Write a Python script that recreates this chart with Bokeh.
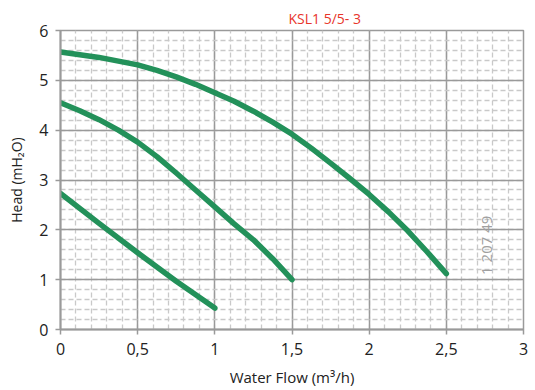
import numpy as np
from bokeh.plotting import figure
from bokeh.models import FixedTicker, Label, Range1d
from bokeh.embed import file_html
from bokeh.resources import INLINE

# Data
flow_high = [0, 0.25, 0.5, 0.625, 0.75, 0.875, 1.0, 1.125, 1.25, 1.375, 1.5,
             1.625, 1.75, 1.875, 2.0, 2.125, 2.25, 2.375, 2.5]
head_high = [5.57, 5.46, 5.31, 5.20, 5.07, 4.92, 4.75, 4.58, 4.38, 4.16, 3.92,
             3.64, 3.34, 3.03, 2.71, 2.36, 1.98, 1.56, 1.12]

flow_mid = [0, 0.125, 0.25, 0.375, 0.5, 0.625, 0.75, 0.875, 1.0, 1.125, 1.25, 1.375, 1.5]
head_mid = [4.55, 4.39, 4.21, 4.00, 3.76, 3.47, 3.14, 2.80, 2.46, 2.12, 1.80, 1.42, 1.0]

flow_low = [0, 0.25, 0.5, 0.75, 1.0]
head_low = [2.73, 2.13, 1.54, 0.97, 0.43]

x_ticks = [0, 0.5, 1, 1.5, 2, 2.5, 3]
x_tick_labels = ["0", "0,5", "1", "1,5", "2", "2,5", "3"]
y_ticks = [0, 1, 2, 3, 4, 5, 6]
x_minor = [round(i * 0.1, 2) for i in range(31)]
y_minor = [round(i * 0.2, 2) for i in range(31)]

title_text = "KSL1 5/5- 3"
code_text = "1 207 49"

FONT = "Open Sans"
GREEN = "#23915a"

p = figure(width=535, height=390, output_backend="svg", toolbar_location=None,
           x_range=Range1d(0, 3), y_range=Range1d(0, 6),
           min_border_left=60, min_border_top=30, min_border_right=12,
           min_border_bottom=61)

p.title.text = title_text
p.title.text_color = "#e8352b"
p.title.text_font = FONT
p.title.text_font_size = "14px"
p.title.text_font_style = "normal"
p.title.align = "left"
p.title.offset = 228
p.title.standoff = 6

p.xaxis.ticker = FixedTicker(ticks=x_ticks, minor_ticks=x_minor)
p.yaxis.ticker = FixedTicker(ticks=y_ticks, minor_ticks=y_minor)
p.xaxis.major_label_overrides = {t: l for t, l in zip(x_ticks, x_tick_labels)}

for ax in (p.xaxis, p.yaxis):
    ax.axis_line_color = "#9a9a9a"
    ax.axis_line_width = 2
    ax.major_tick_line_color = "#9a9a9a"
    ax.major_tick_line_width = 1.5
    ax.major_tick_out = 5
    ax.major_tick_in = 0
    ax.minor_tick_line_color = None
    ax.major_label_text_font = FONT
    ax.major_label_text_font_size = "16px"
    ax.major_label_text_color = "#222222"
    ax.axis_label_text_font = FONT
    ax.axis_label_text_font_style = "normal"
    ax.axis_label_text_color = "#222222"

p.xaxis.axis_label = "Water Flow (m³/h)"
p.yaxis.axis_label = "Head (mH₂O)"
p.xaxis.axis_label_text_font_size = "15px"
p.yaxis.axis_label_text_font_size = "14px"
p.xaxis.major_label_standoff = 8
p.xaxis.axis_label_standoff = 9
p.yaxis.major_label_standoff = 7
p.yaxis.axis_label_standoff = 10

p.outline_line_color = "#9a9a9a"
p.outline_line_width = 1.5

for g in (p.xgrid, p.ygrid):
    g.grid_line_color = "#9a9a9a"
    g.grid_line_width = 1.5
    g.minor_grid_line_color = "#c9c9c9"
    g.minor_grid_line_width = 1.3
    g.minor_grid_line_dash = "5 3"

p.line(flow_high, head_high, line_color=GREEN, line_width=5.5, line_cap="round", line_join="round")
p.line(flow_mid, head_mid, line_color=GREEN, line_width=5.5, line_cap="round", line_join="round")
p.line(flow_low, head_low, line_color=GREEN, line_width=5.5, line_cap="round", line_join="round")

p.add_layout(Label(x=2.76, y=1.69, text=code_text, text_color="#a0a0a0",
                   text_font=FONT, text_font_size="15px", text_baseline="middle",
                   text_align="center", angle=np.pi / 2))

open("out.html", "w").write(file_html(p, INLINE))
